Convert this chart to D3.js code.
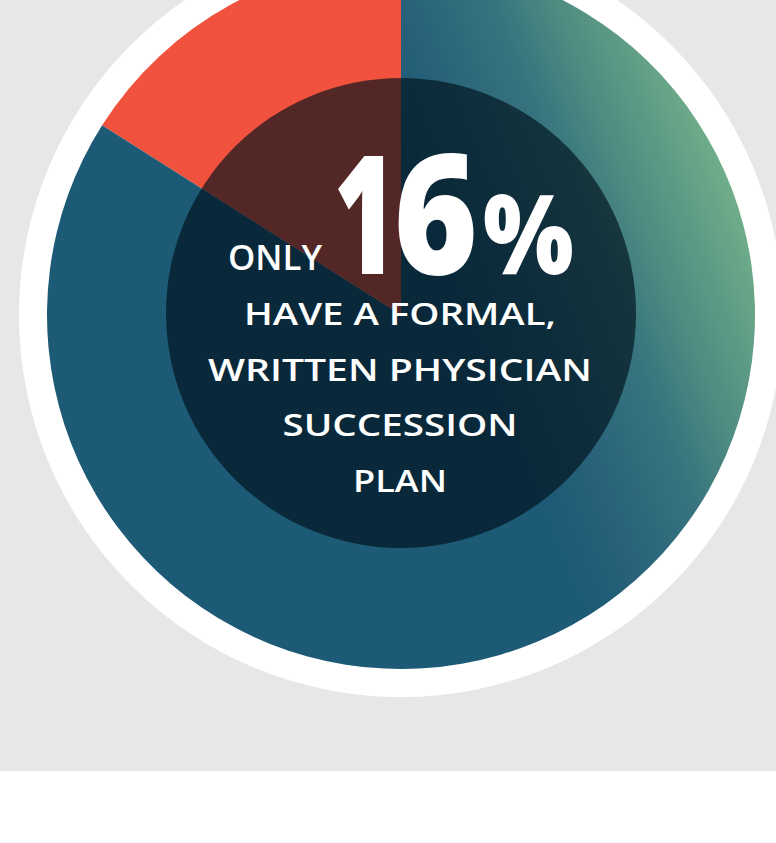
<!DOCTYPE html>
<meta charset="utf-8">
<style>
  body { margin: 0; background: #fff; }
  svg { display: block; }
</style>
<svg width="776" height="843"></svg>
<script src="https://d3js.org/d3.v7.min.js"></script>
<script>
  // share of practices with / without a written succession plan
  const categories = ['Formal written plan', 'No formal plan']
  const values = [16, 84]
  const sliceColors = ['#f0523d', 'url(#blueGreen)']

  const headline = '16%'
  const lead = 'ONLY'
  const lines = ['HAVE A FORMAL,', 'WRITTEN PHYSICIAN', 'SUCCESSION', 'PLAN']
  const lineWidths = [312, 384, 235, 94]

  const width = 776
  const height = 843
  const cx = 401
  const cy = 315

  const svg = d3.select('svg')
    .attr('width', width)
    .attr('height', height)

  // linear fade to green toward the upper right, coords relative to pie centre
  const defs = svg.append('defs')
  const grad = defs.append('linearGradient')
    .attr('id', 'blueGreen')
    .attr('gradientUnits', 'userSpaceOnUse')
    .attr('x1', 60).attr('y1', -24)
    .attr('x2', 365).attr('y2', -146)
  const stops = [
    [0, '#1d5a75'], [0.15, '#276078'], [0.42, '#37747e'],
    [0.58, '#4d8a81'], [0.78, '#64a187'], [1, '#7dbc8b']
  ]
  stops.forEach(s => {
    grad.append('stop').attr('offset', s[0]).attr('stop-color', s[1])
  })

  // grey panel + white disc behind the pie
  svg.append('rect')
    .attr('width', width)
    .attr('height', 771)
    .attr('fill', '#e6e7e9')

  const g = svg.append('g').attr('transform', `translate(${cx},${cy})`)

  g.append('circle')
    .attr('r', 382)
    .attr('fill', '#fff')

  const share = values[0] / d3.sum(values)
  const pie = d3.pie()
    .sort(null)
    .value(d => d)
    .startAngle(-2 * Math.PI * share)
    .endAngle(2 * Math.PI - 2 * Math.PI * share)

  const arc = d3.arc().innerRadius(0).outerRadius(354)

  g.selectAll('path.slice')
    .data(pie(values))
    .enter().append('path')
    .attr('class', 'slice')
    .attr('d', arc)
    .attr('fill', (d, i) => sliceColors[i])

  // dark translucent centre
  g.append('circle')
    .attr('cy', -2)
    .attr('r', 235)
    .attr('fill', '#00101c')
    .attr('fill-opacity', 0.66)

  const font = '"Open Sans", "Noto Sans", sans-serif'

  svg.append('text')
    .attr('x', 228).attr('y', 270)
    .attr('font-family', font)
    .attr('font-weight', 600)
    .attr('font-size', 34)
    .attr('fill', '#fff')
    .attr('textLength', 94)
    .attr('lengthAdjust', 'spacingAndGlyphs')
    .text(lead)

  // big number: fit each glyph's ink into the box it has in the original
  // boxes are [left, right, top], all share baseline 274
  const bigBase = 274
  const bigBox = [[338, 383, 155], [398, 474, 154], [484, 572, 195]]
  const ctx = document.createElement('canvas').getContext('2d')

  svg.append('g').selectAll('text')
    .data(headline.split(''))
    .enter().append('text')
    .each(function (ch, i) {
      const [l, r, top] = bigBox[i]
      ctx.font = `800 100px ${font}`
      const m = ctx.measureText(ch)
      const size = 100 * (bigBase - top) / m.actualBoundingBoxAscent
      const k = size / 100
      const ink = (m.actualBoundingBoxLeft + m.actualBoundingBoxRight) * k
      const sx = (r - l) / ink
      d3.select(this)
        .attr('x', l + m.actualBoundingBoxLeft * k * sx)
        .attr('y', bigBase)
        .attr('font-family', font)
        .attr('font-weight', 800)
        .attr('font-size', size)
        .attr('fill', '#fff')
        .attr('textLength', m.width * k * sx)
        .attr('lengthAdjust', 'spacingAndGlyphs')
        .text(ch)
    })

  svg.append('g').selectAll('text')
    .data(lines)
    .enter().append('text')
    .attr('x', 400)
    .attr('y', (d, i) => 325 + i * 55.7)
    .attr('text-anchor', 'middle')
    .attr('font-family', font)
    .attr('font-weight', 600)
    .attr('font-size', 31)
    .attr('fill', '#fff')
    .attr('textLength', (d, i) => lineWidths[i])
    .attr('lengthAdjust', 'spacingAndGlyphs')
    .text(d => d)
</script>
